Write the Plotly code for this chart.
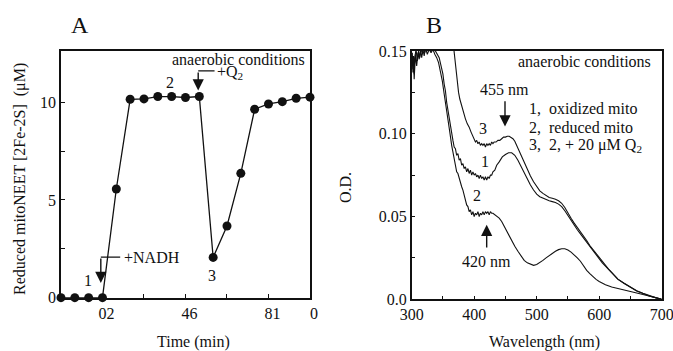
import plotly.graph_objects as go

# ---------------- Panel A data ----------------
time_min = [0, 5, 10, 15, 20, 25, 30, 35, 40, 45, 50, 55, 60, 65, 70, 75, 80, 85, 90]
reduced_uM = [0, 0, 0, 0, 5.56, 10.15, 10.17, 10.29, 10.29, 10.24, 10.29,
              2.06, 3.67, 6.36, 9.64, 9.91, 10.03, 10.2, 10.26]
a_tickvals = [0, 15, 30, 45, 60, 75, 90]
a_ticktext = ["", "02", "", "46", "", "81", "0"]
a_ytickvals = [0, 2.5, 5, 7.5, 10]
a_yticktext = ["0", "", "5", "", "10"]

# ---------------- Panel B data ----------------
wl_1 = [300, 301, 302, 303, 304, 305, 307, 309, 311, 313, 315, 317, 319, 321, 323, 326, 329, 332, 335, 338,
        341, 344, 347, 350, 352, 354, 356, 358, 360, 362, 364, 366, 368, 370, 372, 374, 376, 378, 380, 382,
        384, 386, 388, 390, 392, 394, 396, 398, 400, 402, 404, 406, 408, 410, 412, 414, 416, 418, 420, 422,
        424, 426, 428, 430, 433, 436, 440, 445, 450, 455, 460, 465, 470, 475, 480, 485, 490, 495, 500, 505,
        510, 515, 520, 525, 530, 535, 540, 545, 550, 555, 560, 565, 570, 575, 580, 585, 590, 595, 600, 605,
        610, 615, 620, 625, 630, 640, 650, 660, 670, 680, 690, 700]
od_1 = [0.143, 0.149, 0.139, 0.147, 0.136, 0.146, 0.151, 0.144, 0.150, 0.146, 0.152, 0.148, 0.153, 0.149, 0.152,
        0.150, 0.153, 0.151, 0.152, 0.150, 0.148, 0.146, 0.141, 0.136, 0.130, 0.126, 0.119, 0.114, 0.108, 0.103,
        0.099, 0.096, 0.092, 0.091, 0.087, 0.088, 0.084, 0.085, 0.081, 0.082, 0.079, 0.080, 0.077, 0.079, 0.076,
        0.078, 0.075, 0.077, 0.075, 0.076, 0.074, 0.075, 0.073, 0.075, 0.073, 0.074, 0.072, 0.074, 0.072, 0.074,
        0.073, 0.075, 0.075, 0.077, 0.078, 0.081, 0.083, 0.086, 0.0875, 0.0885, 0.0885, 0.087, 0.084, 0.080, 0.076,
        0.072, 0.069, 0.066, 0.0635, 0.062, 0.061, 0.060, 0.0595, 0.059, 0.0585, 0.0575, 0.056, 0.0535, 0.0505,
        0.0475, 0.0445, 0.042, 0.0395, 0.037, 0.0345, 0.0315, 0.0295, 0.027, 0.0245, 0.022, 0.020, 0.018, 0.016,
        0.014, 0.012, 0.0095, 0.007, 0.005, 0.0035, 0.002, 0.001, 0.0]

wl_2 = [300, 301, 302, 303, 304, 305, 306, 308, 310, 312, 314, 316, 318, 320, 322, 325, 328, 331, 334, 337,
        340, 343, 346, 349, 352, 355, 358, 361, 364, 367, 370, 372, 374, 376, 378, 380, 382, 384, 386, 388,
        390, 392, 394, 396, 398, 400, 402, 404, 406, 408, 410, 412, 414, 416, 418, 420, 422, 424, 426, 428,
        430, 433, 436, 440, 444, 448, 452, 456, 460, 465, 470, 475, 480, 485, 490, 495, 500, 505, 510, 515,
        520, 525, 530, 535, 540, 545, 550, 555, 560, 565, 570, 575, 580, 585, 590, 595, 600, 610, 620, 630,
        640, 650, 660, 670, 680, 690, 700]
od_2 = [0.141, 0.147, 0.137, 0.145, 0.133, 0.143, 0.148, 0.141, 0.149, 0.145, 0.150, 0.146, 0.151, 0.147, 0.152,
        0.148, 0.151, 0.149, 0.151, 0.148, 0.146, 0.143, 0.138, 0.132, 0.124, 0.117, 0.109, 0.101, 0.093, 0.086,
        0.080, 0.077, 0.076, 0.073, 0.071, 0.068, 0.066, 0.063, 0.061, 0.057, 0.056, 0.053, 0.054, 0.051, 0.053,
        0.050, 0.052, 0.051, 0.053, 0.050, 0.052, 0.051, 0.053, 0.051, 0.053, 0.052, 0.053, 0.051, 0.053, 0.052,
        0.052, 0.051, 0.050, 0.049, 0.047, 0.044, 0.041, 0.038, 0.035, 0.032, 0.029, 0.026, 0.0235, 0.022, 0.021,
        0.0205, 0.021, 0.022, 0.0235, 0.025, 0.0265, 0.028, 0.029, 0.030, 0.0305, 0.0305, 0.0298, 0.0285, 0.027,
        0.025, 0.023, 0.020, 0.0175, 0.0155, 0.0135, 0.012, 0.0108, 0.0088, 0.0074, 0.0064, 0.0055, 0.0046,
        0.0038, 0.0029, 0.0019, 0.0009, 0.0]

wl_3 = [362, 367, 369, 371, 373, 375, 377, 380, 383, 386, 389, 392, 395, 398, 400, 402, 404, 406, 408, 410,
        412, 414, 416, 418, 420, 422, 424, 426, 428, 430, 432, 435, 438, 441, 444, 447, 450, 453, 456, 459,
        462, 465, 468, 471, 475, 480, 485, 490, 495, 500, 505, 510, 515, 520, 525, 530, 535, 540, 545, 550,
        555, 560, 565, 570, 575, 580, 585, 590, 595, 600, 605, 610, 615, 620, 625, 630, 640, 650, 660, 670,
        680, 690, 700]
od_3 = [0.170, 0.152, 0.146, 0.136, 0.130, 0.125, 0.121, 0.1165, 0.113, 0.109, 0.106, 0.104, 0.101, 0.098, 0.097,
        0.095, 0.096, 0.094, 0.095, 0.093, 0.094, 0.093, 0.094, 0.092, 0.094, 0.093, 0.094, 0.093, 0.095, 0.094,
        0.095, 0.095, 0.096, 0.096, 0.097, 0.098, 0.098, 0.0985, 0.0985, 0.098, 0.097, 0.0955, 0.093, 0.090,
        0.087, 0.082, 0.078, 0.0745, 0.071, 0.068, 0.0655, 0.064, 0.0625, 0.0615, 0.061, 0.0605, 0.0595, 0.058,
        0.0555, 0.052, 0.049, 0.046, 0.0435, 0.041, 0.038, 0.0355, 0.0325, 0.030, 0.0275, 0.025, 0.0225, 0.0205,
        0.0182, 0.0162, 0.0142, 0.0122, 0.0097, 0.0072, 0.0052, 0.0036, 0.0021, 0.001, 0.0]

b_tickvals = [300, 350, 400, 450, 500, 550, 600, 650, 700]
b_ticktext = ["300", "", "400", "", "500", "", "600", "", "700"]
b_ytickvals = [0, 0.025, 0.05, 0.075, 0.10, 0.125, 0.15]
b_yticktext = ["0.0", "", "0.05", "", "0.10", "", "0.15"]

FONT = "Liberation Serif, Times New Roman, Times, serif"
INK = "#111111"
AX = "#111111"
FS = 16
NB = "\u00a0"

fig = go.Figure()

fig.add_trace(go.Scatter(x=time_min, y=reduced_uM, mode="lines+markers",
                         line=dict(color=INK, width=1.3),
                         marker=dict(color=INK, size=9),
                         cliponaxis=False, xaxis="x", yaxis="y", showlegend=False))

for wl, od in [(wl_2, od_2), (wl_1, od_1), (wl_3, od_3)]:
    fig.add_trace(go.Scatter(x=wl, y=od, mode="lines",
                             line=dict(color=INK, width=1.1),
                             xaxis="x2", yaxis="y2", showlegend=False))

tickfont = dict(family=FONT, size=FS, color=INK)
common = dict(showgrid=False, zeroline=False, showline=True, mirror=True,
              linecolor=AX, linewidth=1.5, ticks="inside", ticklen=4,
              tickcolor=AX, tickwidth=1.3, tickfont=tickfont, automargin=False,
              ticklabeloverflow="allow")

fig.update_layout(
    width=673, height=351,
    margin=dict(l=0, r=0, t=0, b=0, autoexpand=False),
    paper_bgcolor="white", plot_bgcolor="white",
    font=dict(family=FONT, size=FS, color=INK),
    xaxis=dict(domain=[0.0906, 0.4606], range=[0, 90], tickmode="array",
               tickvals=a_tickvals, ticktext=a_ticktext, ticklabelshift=4,
               anchor="y", **common),
    yaxis=dict(domain=[0.1519, 0.8547], range=[0, 12.62], tickmode="array",
               tickvals=a_ytickvals, ticktext=a_yticktext, anchor="x", **common),
    xaxis2=dict(domain=[0.6117, 0.9832], range=[300, 700], tickmode="array",
                tickvals=b_tickvals, ticktext=b_ticktext, anchor="y2", **common),
    yaxis2=dict(domain=[0.1473, 0.8547], range=[0, 0.15], tickmode="array",
                tickvals=b_ytickvals, ticktext=b_yticktext, anchor="x2", **common),
)

ann = []
tf = dict(family=FONT, size=FS, color=INK)
pc = dict(xref="paper", yref="paper", xanchor="center", yanchor="middle", showarrow=False)
# panel titles
ann.append(dict(text="A", x=0.119, y=0.929, font=dict(family=FONT, size=24, color=INK), **pc))
ann.append(dict(text="B", x=0.645, y=0.929, font=dict(family=FONT, size=24, color=INK), **pc))
# axis titles
ann.append(dict(text="Time (min)", x=0.2868, y=0.0256, font=tf, **pc))
ann.append(dict(text="Wavelength (nm)", x=0.8098, y=0.0256, font=tf, **pc))
ann.append(dict(text="Reduced mitoNEET [2Fe-2S]" + NB + NB + "(μM)", x=0.0297, y=0.49,
                textangle=-90, font=tf, **pc))
ann.append(dict(text="O.D.", x=0.5126, y=0.467, textangle=-90, font=tf, **pc))

# panel A annotations
ann.append(dict(text="anaerobic conditions", x=88.9, y=12.16, xref="x", yref="y", xanchor="right",
                showarrow=False, font=tf))
ann.append(dict(text="+Q<sub>2</sub>", x=55.7, y=11.5, xref="x", yref="y", xanchor="left",
                showarrow=False, font=tf))
ann.append(dict(text="", x=49.6, y=10.6, ax=49.6, ay=11.6, xref="x", yref="y", axref="x", ayref="y",
                showarrow=True, arrowhead=2, arrowsize=1.6, arrowwidth=1.4, arrowcolor=INK))
ann.append(dict(text="+NADH", x=22.0, y=2.08, xref="x", yref="y", xanchor="left",
                showarrow=False, font=tf))
ann.append(dict(text="", x=14.4, y=0.75, ax=14.4, ay=2.08, xref="x", yref="y", axref="x", ayref="y",
                showarrow=True, arrowhead=2, arrowsize=1.6, arrowwidth=1.4, arrowcolor=INK))
ann.append(dict(text="1", x=9.9, y=0.86, xref="x", yref="y", showarrow=False, font=tf))
ann.append(dict(text="2", x=39.5, y=10.99, xref="x", yref="y", showarrow=False, font=tf))
ann.append(dict(text="3", x=54.6, y=1.11, xref="x", yref="y", showarrow=False, font=tf))

# panel B annotations
ann.append(dict(text="anaerobic conditions", x=685.6, y=0.1436, xref="x2", yref="y2", xanchor="right",
                showarrow=False, font=tf))
ann.append(dict(text="455 nm", x=449.3, y=0.1266, xref="x2", yref="y2", showarrow=False, font=tf))
ann.append(dict(text="", x=449.3, y=0.1044, ax=449.3, ay=0.1206, xref="x2", yref="y2", axref="x2", ayref="y2",
                showarrow=True, arrowhead=2, arrowsize=1.6, arrowwidth=1.4, arrowcolor=INK))
ann.append(dict(text="1," + NB + NB + "oxidized mito", x=484, y=0.1151, xref="x2", yref="y2", xanchor="left",
                showarrow=False, font=tf))
ann.append(dict(text="2," + NB + NB + "reduced mito", x=484, y=0.1036, xref="x2", yref="y2", xanchor="left",
                showarrow=False, font=tf))
ann.append(dict(text="3," + NB + NB + "2, + 20 μM Q<sub>2</sub>", x=484, y=0.0927, xref="x2", yref="y2",
                xanchor="left", showarrow=False, font=tf))
ann.append(dict(text="3", x=414, y=0.103, xref="x2", yref="y2", showarrow=False, font=tf))
ann.append(dict(text="1", x=417, y=0.083, xref="x2", yref="y2", showarrow=False, font=tf))
ann.append(dict(text="2", x=404, y=0.063, xref="x2", yref="y2", showarrow=False, font=tf))
ann.append(dict(text="420 nm", x=420.5, y=0.0227, xref="x2", yref="y2", showarrow=False, font=tf))
ann.append(dict(text="", x=420, y=0.045, ax=420, ay=0.0304, xref="x2", yref="y2", axref="x2", ayref="y2",
                showarrow=True, arrowhead=2, arrowsize=1.6, arrowwidth=1.4, arrowcolor=INK))

fig.update_layout(annotations=ann)

fig.add_shape(type="line", xref="x", yref="y", x0=14.4, x1=21.4, y0=2.08, y1=2.08,
              line=dict(color=INK, width=1.3))
fig.add_shape(type="line", xref="x", yref="y", x0=49.6, x1=55.5, y0=11.6, y1=11.6,
              line=dict(color=INK, width=1.3))

fig.write_html("out.html", config={"displayModeBar": False},
               post_script="document.body.style.margin='0px';document.body.style.overflow='hidden';")
